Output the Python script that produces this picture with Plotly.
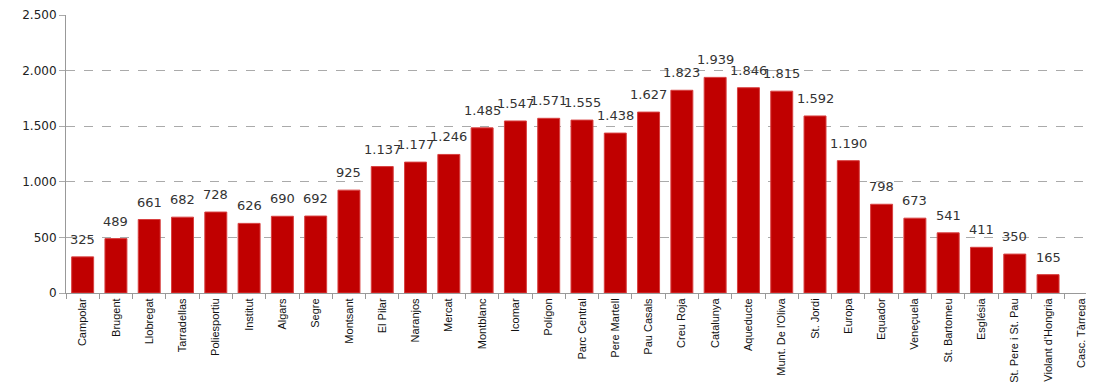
import plotly.graph_objects as go

barris = ["Campolar", "Brugent", "Llobregat", "Tarradellas", "Poliesportiu", "Institut",
          "Algars", "Segre", "Montsant", "El Pilar", "Naranjos", "Mercat", "Montblanc",
          "Icomar", "Polígon", "Parc Central", "Pere Martell", "Pau Casals", "Creu Roja",
          "Catalunya", "Aqueducte", "Munt. De l'Oliva", "St. Jordi", "Europa", "Equador",
          "Veneçuela", "St. Bartomeu", "Església", "St. Pere i St. Pau", "Violant d'Hongria",
          "Casc. Tàrrega"]
valors = [325, 489, 661, 682, 728, 626, 690, 692, 925, 1137, 1177, 1246, 1485, 1547,
          1571, 1555, 1438, 1627, 1823, 1939, 1846, 1815, 1592, 1190, 798, 673, 541,
          411, 350, 165, None]
y_ticks = [0, 500, 1000, 1500, 2000, 2500]

fig = go.Figure()
fig.add_trace(go.Bar(
    x=barris, y=valors,
    marker=dict(color="#C00000", line=dict(color="#D84040", width=1)),
    width=0.66,
))

# etiquetes de valor damunt de cada barra
for b, v in zip(barris, valors):
    if v is None:
        continue
    fig.add_annotation(
        x=b, y=v, text=f"{v:,}".replace(",", "."),
        showarrow=False, yanchor="bottom", yshift=8,
        font=dict(family="DejaVu Sans", size=13, color="#333333"),
    )

# la pàgina té 8px de marge al body: es compensa amb la mida i els marges
fig.update_layout(
    width=1086, height=377,
    margin=dict(l=58, r=1, t=7, b=92),
    plot_bgcolor="white", paper_bgcolor="white",
    separators=",.",
    showlegend=False,
)
fig.update_xaxes(
    type="category", range=[-0.5, 30.35], automargin=False,
    showline=True, linecolor="#999999", linewidth=1,
    ticks="outside", tickson="boundaries", ticklen=5, tickcolor="#999999",
    tickangle=-90, tickfont=dict(family="Liberation Sans", size=11, color="#111111"),
    showgrid=False,
)
fig.update_yaxes(
    range=[0, 2500], tickvals=y_ticks, tickformat=",", automargin=False,
    showline=True, linecolor="#999999", linewidth=1,
    ticks="outside", ticklen=6, tickcolor="#aaaaaa",
    showgrid=True, gridcolor="#aaaaaa", griddash="dash", gridwidth=1,
    zeroline=False,
    tickfont=dict(family="DejaVu Sans", size=12, color="#222222"),
)

fig.write_html("out.html")
